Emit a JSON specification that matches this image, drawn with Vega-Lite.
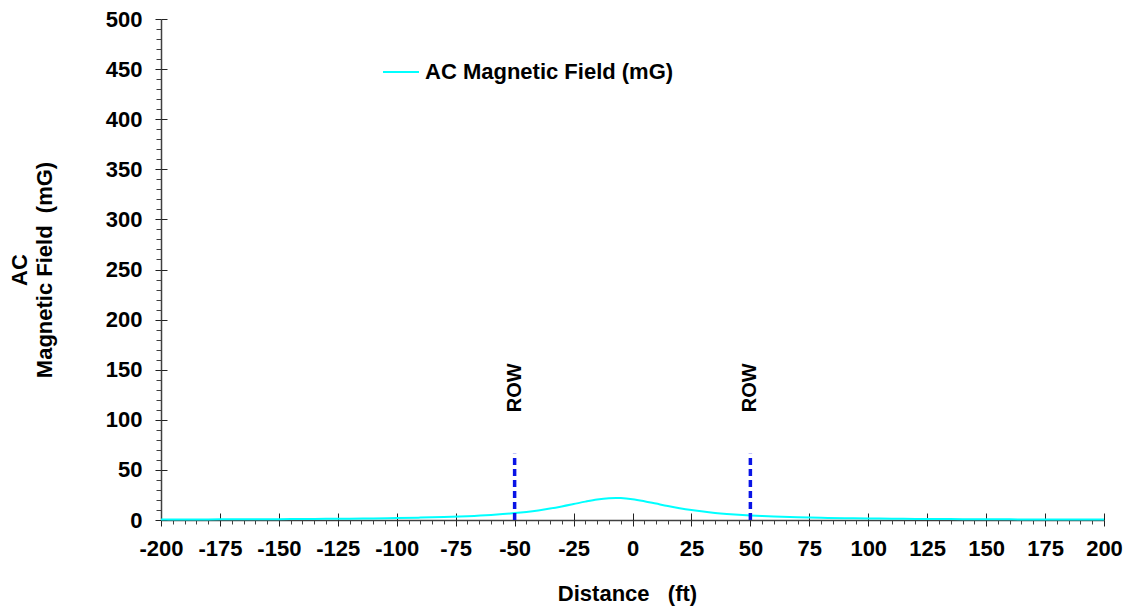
{
  "$schema": "https://vega.github.io/schema/vega-lite/v6.json",
  "width": 943,
  "height": 501,
  "autosize": "none",
  "padding": {"left": 161, "top": 19, "right": 20, "bottom": 87},
  "background": "white",
  "config": {
    "view": {"stroke": null},
    "font": "Liberation Sans",
    "axis": {"grid": false, "labelFont": "Liberation Sans", "titleFont": "Liberation Sans"}
  },
  "datasets": {
    "profile": [
      {"distance": -200, "field": 0.49},
      {"distance": -190, "field": 0.54},
      {"distance": -180, "field": 0.60},
      {"distance": -170, "field": 0.68},
      {"distance": -160, "field": 0.76},
      {"distance": -150, "field": 0.87},
      {"distance": -140, "field": 1.00},
      {"distance": -130, "field": 1.16},
      {"distance": -120, "field": 1.36},
      {"distance": -110, "field": 1.61},
      {"distance": -100, "field": 1.95},
      {"distance": -90, "field": 2.39},
      {"distance": -80, "field": 3.00},
      {"distance": -70, "field": 3.85},
      {"distance": -60, "field": 5.07},
      {"distance": -55, "field": 5.88},
      {"distance": -50, "field": 6.88},
      {"distance": -45, "field": 8.10},
      {"distance": -40, "field": 9.59},
      {"distance": -35, "field": 11.39},
      {"distance": -30, "field": 13.51},
      {"distance": -25, "field": 15.88},
      {"distance": -20, "field": 18.32},
      {"distance": -15, "field": 20.45},
      {"distance": -10, "field": 21.77},
      {"distance": -7, "field": 22.0},
      {"distance": -5, "field": 21.90},
      {"distance": 0, "field": 20.79},
      {"distance": 5, "field": 18.78},
      {"distance": 10, "field": 16.37},
      {"distance": 15, "field": 13.96},
      {"distance": 20, "field": 11.78},
      {"distance": 25, "field": 9.92},
      {"distance": 30, "field": 8.37},
      {"distance": 35, "field": 7.10},
      {"distance": 40, "field": 6.07},
      {"distance": 45, "field": 5.22},
      {"distance": 50, "field": 4.52},
      {"distance": 55, "field": 3.95},
      {"distance": 60, "field": 3.47},
      {"distance": 70, "field": 2.73},
      {"distance": 80, "field": 2.20},
      {"distance": 90, "field": 1.80},
      {"distance": 100, "field": 1.51},
      {"distance": 110, "field": 1.27},
      {"distance": 120, "field": 1.09},
      {"distance": 130, "field": 0.94},
      {"distance": 140, "field": 0.82},
      {"distance": 150, "field": 0.73},
      {"distance": 160, "field": 0.64},
      {"distance": 170, "field": 0.58},
      {"distance": 180, "field": 0.52},
      {"distance": 190, "field": 0.47},
      {"distance": 200, "field": 0.42}
    ],
    "row": [
      {"distance": -50, "markerBase": 0, "markerTop": 66, "labelAt": 132, "label": "ROW"},
      {"distance": 50, "markerBase": 0, "markerTop": 66, "labelAt": 132, "label": "ROW"}
    ]
  },
  "resolve": {"axis": {"x": "independent", "y": "independent"}},
  "layer": [
    {
      "data": {"name": "profile"},
      "mark": {"type": "line", "strokeWidth": 2, "interpolate": "monotone"},
      "encoding": {
        "x": {
          "field": "distance", "type": "quantitative",
          "scale": {"domain": [-200, 200], "nice": false, "zero": false},
          "axis": {
            "orient": "bottom",
            "title": "Distance\u00a0\u00a0\u00a0(ft)",
            "titleFontSize": 22, "titleFontWeight": "bold", "titleColor": "black",
            "titlePadding": 24, "titleX": 466,
            "values": [-200, -175, -150, -125, -100, -75, -50, -25, 0, 25, 50, 75, 100, 125, 150, 175, 200],
            "labelExpr": "toString(datum.value)",
            "labelFontSize": 22, "labelFontWeight": "bold", "labelColor": "black",
            "labelPadding": 12, "labelFlush": false, "labelOverlap": false,
            "tickSize": 6, "tickColor": "#222222", "tickWidth": 1,
            "domainColor": "#404040", "domainWidth": 1.5
          }
        },
        "y": {
          "field": "field", "type": "quantitative",
          "scale": {"domain": [0, 500], "nice": false},
          "axis": {
            "orient": "left",
            "title": ["AC", "Magnetic Field\u00a0\u00a0(mG)"],
            "titleFontSize": 22, "titleFontWeight": "bold", "titleColor": "black",
            "titleLineHeight": 25, "titlePadding": 49,
            "values": [0, 50, 100, 150, 200, 250, 300, 350, 400, 450, 500],
            "labelFontSize": 22, "labelFontWeight": "bold", "labelColor": "black",
            "labelPadding": 13, "labelFlush": false, "labelOverlap": false,
            "tickSize": 6, "tickColor": "#222222", "tickWidth": 1,
            "domainColor": "#404040", "domainWidth": 1.5
          }
        },
        "color": {
          "datum": "AC Magnetic Field (mG)",
          "type": "nominal",
          "scale": {"range": ["#00FFFF"]},
          "legend": {
            "orient": "none", "legendX": 221, "legendY": 34,
            "title": null, "padding": 0,
            "symbolType": "stroke", "symbolSize": 1296, "symbolStrokeWidth": 2,
            "labelFontSize": 22, "labelFontWeight": "bold", "labelColor": "black",
            "labelOffset": 5, "labelLimit": 400
          }
        }
      }
    },
    {
      "data": {"name": "row"},
      "mark": {"type": "rule", "color": "#0a14e6", "strokeWidth": 3.5, "strokeDash": [7, 4]},
      "encoding": {
        "x": {
          "field": "distance", "type": "quantitative",
          "axis": {
            "orient": "bottom", "title": null, "labels": false, "domain": false,
            "values": [-195, -190, -185, -180, -170, -165, -160, -155, -145, -140, -135, -130, -120, -115, -110, -105, -95, -90, -85, -80, -70, -65, -60, -55, -45, -40, -35, -30, -20, -15, -10, -5, 5, 10, 15, 20, 30, 35, 40, 45, 55, 60, 65, 70, 80, 85, 90, 95, 105, 110, 115, 120, 130, 135, 140, 145, 155, 160, 165, 170, 180, 185, 190, 195],
            "tickSize": 4, "tickColor": "#404040", "tickWidth": 1
          }
        },
        "y": {
          "field": "markerBase", "type": "quantitative",
          "axis": {
            "orient": "left", "title": null, "labels": false, "domain": false,
            "values": [10, 20, 30, 40, 60, 70, 80, 90, 110, 120, 130, 140, 160, 170, 180, 190, 210, 220, 230, 240, 260, 270, 280, 290, 310, 320, 330, 340, 360, 370, 380, 390, 410, 420, 430, 440, 460, 470, 480, 490],
            "tickSize": 5, "tickColor": "#404040", "tickWidth": 1
          }
        },
        "y2": {"field": "markerTop"}
      }
    },
    {
      "data": {"name": "row"},
      "mark": {"type": "text", "angle": 270, "align": "center", "baseline": "middle", "fontSize": 20, "fontWeight": "bold", "color": "black", "font": "Liberation Sans"},
      "encoding": {
        "x": {
          "field": "distance", "type": "quantitative",
          "axis": {
            "orient": "bottom", "title": null, "labels": false, "domain": false,
            "values": [-200, -175, -150, -125, -100, -75, -50, -25, 0, 25, 50, 75, 100, 125, 150, 175, 200],
            "tickSize": -7, "tickColor": "#222222", "tickWidth": 1
          }
        },
        "y": {
          "field": "labelAt", "type": "quantitative",
          "axis": {
            "orient": "left", "title": null, "labels": false, "domain": false,
            "values": [0, 50, 100, 150, 200, 250, 300, 350, 400, 450, 500],
            "tickSize": -6, "tickColor": "#222222", "tickWidth": 1
          }
        },
        "text": {"field": "label"}
      }
    }
  ]
}
